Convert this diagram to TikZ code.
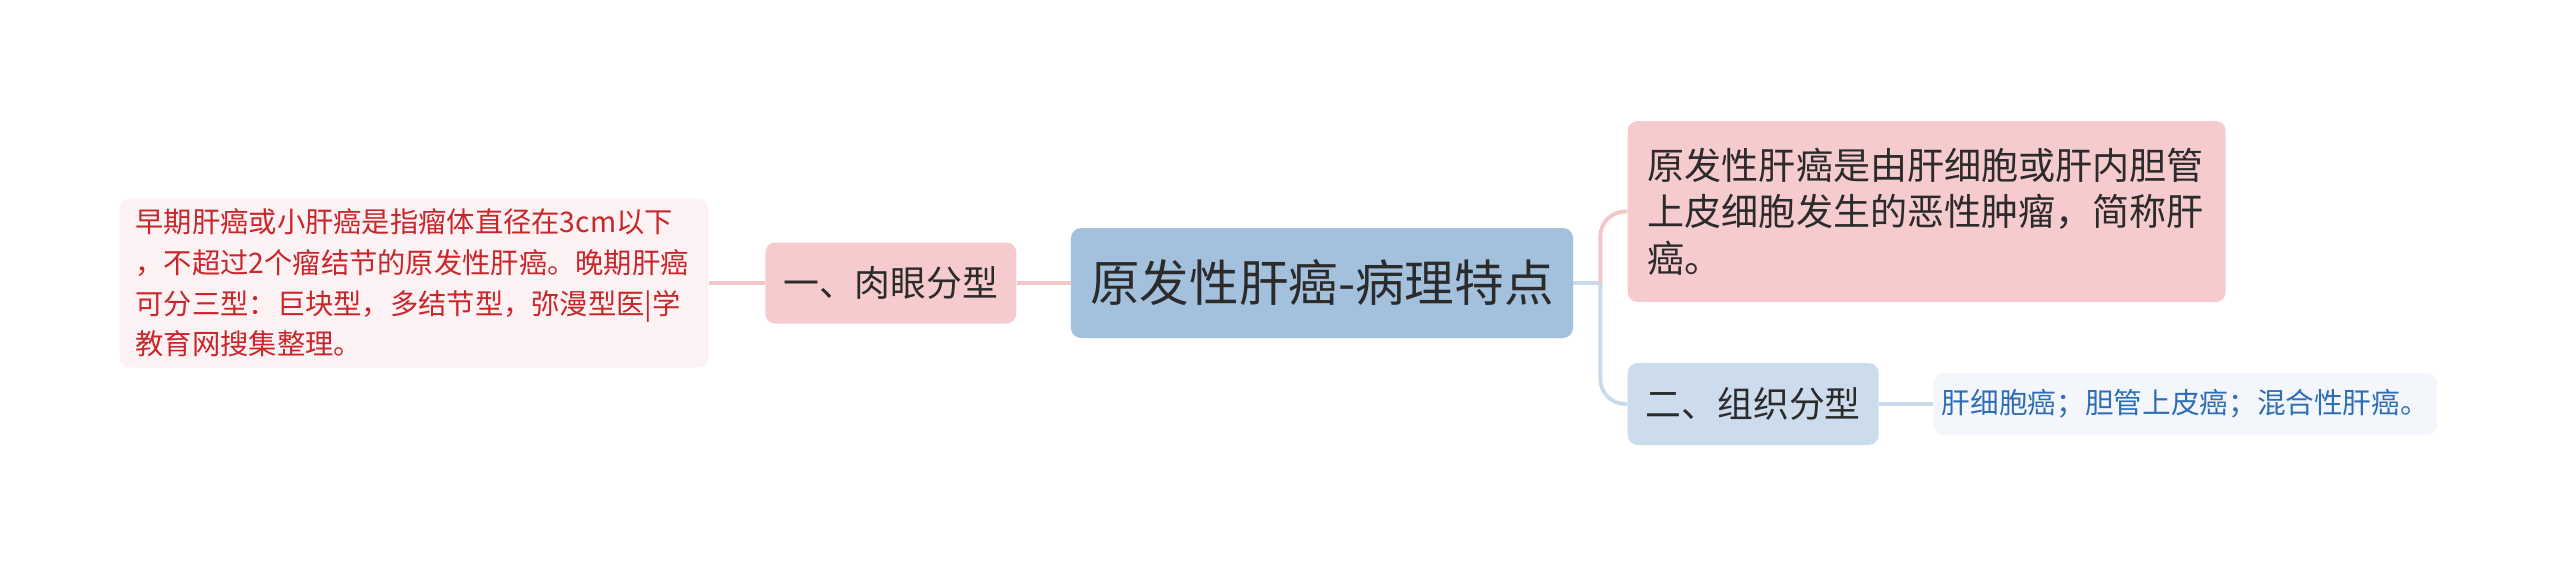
\documentclass[tikz,border=0pt]{standalone}
\usepackage{fontspec}
\setmainfont{Noto Sans CJK SC}
\usetikzlibrary{positioning}
\definecolor{rootfill}{HTML}{A3C1DD}
\definecolor{pinkfill}{HTML}{F6CBCE}
\definecolor{bluefill}{HTML}{CCDCEC}
\definecolor{pinkleaf}{HTML}{FDF2F3}
\definecolor{blueleaf}{HTML}{F3F7FC}
\definecolor{pinkline}{HTML}{F3C6C9}
\definecolor{blueline}{HTML}{CADAEB}
\definecolor{inktext}{HTML}{2B2B2B}
\definecolor{redtext}{HTML}{C8262B}
\definecolor{bluetext}{HTML}{2F6EB5}
\tikzset{
box/.style={rectangle,rounded corners=0.2cm,inner sep=0pt,text=inktext},
root/.style={box,fill=rootfill,minimum width=10.04cm,minimum height=2.2cm,
font=\fontsize{28.2}{33}\selectfont},
branch/.style={box,minimum width=5.02cm,minimum height=1.62cm,
font=\fontsize{20.4}{26}\selectfont},
leafnote/.style={box,align=left,inner xsep=0.32cm},
pinklink/.style={draw=pinkline,line width=2.2pt},
bluelink/.style={draw=blueline,line width=2.2pt}
}
\begin{document}
\begin{tikzpicture}
\useasboundingbox (-26.44,-5.68) rectangle (24.76,5.66);

\node[root] (root) at (0,0) {原发性肝癌-病理特点};
\node[branch,fill=pinkfill] (gross) [left=1.08cm of root] {一、肉眼分型};
\node[leafnote,fill=pinkleaf,text=redtext,minimum width=11.78cm,minimum height=3.38cm,
text width=11.14cm,font=\fontsize{16.1}{23.2}\selectfont] (grossdesc) [left=1.12cm of gross]
{早期肝癌或小肝癌是指瘤体直径在3cm以下\\，不超过2个瘤结节的原发性肝癌。晚期肝癌\\可分三型：巨块型，多结节型，弥漫型医|学\\教育网搜集整理。};
\node[leafnote,fill=pinkfill,inner xsep=0.4cm,minimum width=11.96cm,minimum height=3.62cm,
text width=11.16cm,font=\fontsize{21.1}{26.4}\selectfont] (defn) [right=1.08cm of root,yshift=1.43cm]
{原发性肝癌是由肝细胞或肝内胆管\\上皮细胞发生的恶性肿瘤，简称肝\\癌。};
\node[branch,fill=bluefill,minimum height=1.64cm] (histo) [right=1.08cm of root,yshift=-2.42cm] {二、组织分型};
\node[box,fill=blueleaf,text=bluetext,minimum width=10.08cm,minimum height=1.24cm,
font=\fontsize{16.3}{20}\selectfont] (histodesc) [right=1.08cm of histo]
{肝细胞癌；胆管上皮癌；混合性肝癌。};

\coordinate[right=0.54cm of root.east] (fork);

\path (root) edge[pinklink] (gross);
\path (gross) edge[pinklink] (grossdesc);
\path (root.east) edge[bluelink] (fork);
\draw[bluelink,rounded corners=0.5cm] (fork) |- (histo.west);
\draw[pinklink,rounded corners=0.5cm] (fork) |- (defn.west);
\path (histo) edge[bluelink] (histodesc);

\end{tikzpicture}
\end{document}
